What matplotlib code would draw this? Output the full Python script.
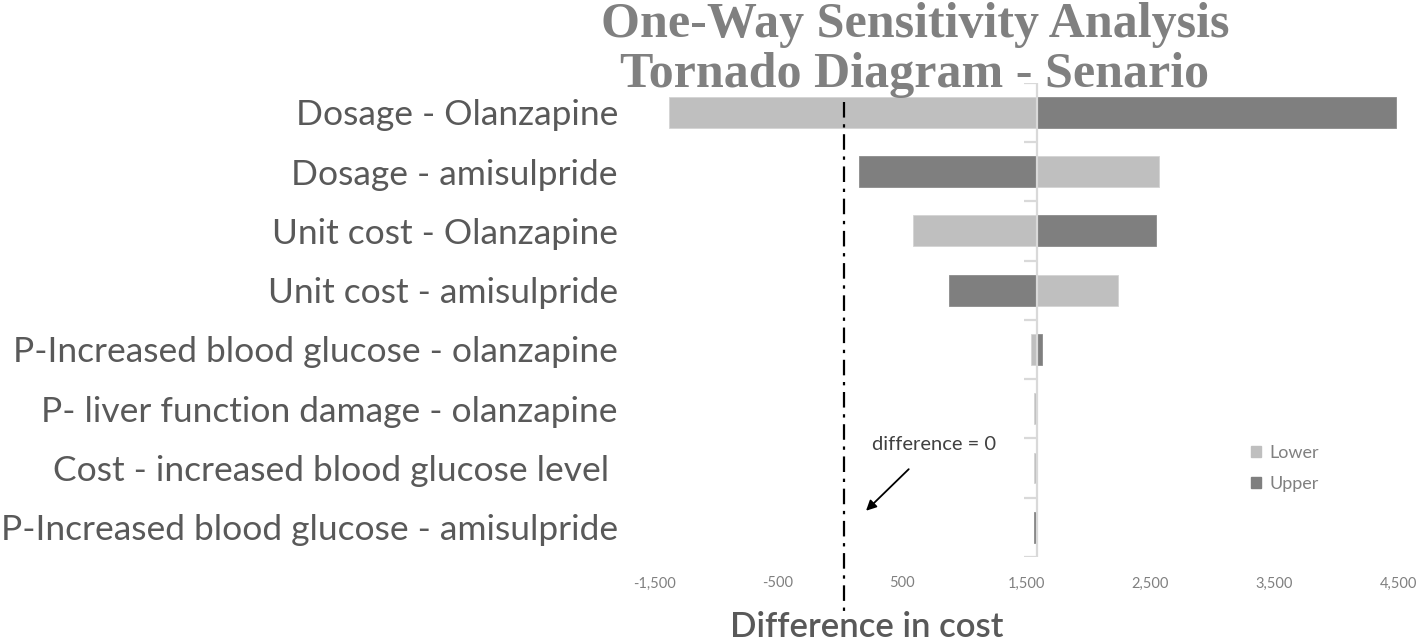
import matplotlib.pyplot as plt
import matplotlib.transforms as mtransforms
from matplotlib.patches import Patch

categories = [
    "Dosage - Olanzapine",
    "Dosage - amisulpride",
    "Unit cost - Olanzapine",
    "Unit cost - amisulpride",
    "P-Increased blood glucose - olanzapine",
    "P- liver function damage - olanzapine",
    "Cost - increased blood glucose level ",
    "P-Increased blood glucose - amisulpride",
]
base = 1590
lower = [-1380, 2573, 589, 2242, 1540, 1562, 1565, 1590]
upper = [4480, 153, 2548, 876, 1629, 1590, 1590, 1565]
xticks = [-1500, -500, 500, 1500, 2500, 3500, 4500]

light = '#bfbfbf'
dark = '#7f7f7f'

fig = plt.figure(figsize=(14.18, 6.41), dpi=100)
ax = fig.add_axes([654 / 1418, 1 - 557 / 641, 744 / 1418, 474.4 / 641])

y = list(range(len(categories)))
ax.barh(y, [l - base for l in lower], left=base, height=0.52, color=light,
        edgecolor='#d4d4d4', linewidth=0.6, label='Lower')
ax.barh(y, [u - base for u in upper], left=base, height=0.52, color=dark,
        edgecolor='#8c8c8c', linewidth=0.6, label='Upper')

# vertical axis at the base case, with its tick marks
ax.plot([base, base], [-0.5, 7.5], color='#d9d9d9', lw=1.6, zorder=3)
ax.hlines([k - 0.5 for k in range(9)], base - 105, base, color='#d9d9d9', lw=1.6, zorder=3)

ax.set_xlim(-1500, 4500)
ax.set_ylim(7.5, -0.5)
ax.set_xticks(xticks)
ax.set_xticklabels([f"{v:,}" for v in xticks], fontsize=10.5, color='#808080', family='Lato')
ax.set_yticks(y)
ax.set_yticklabels(categories, fontsize=25.5, color='#595959', family='Lato')
ax.tick_params(axis='x', length=0, pad=14)
ax.tick_params(axis='y', length=0, pad=26)
for s in ax.spines.values():
    s.set_visible(False)

# difference = 0 reference line
trans = mtransforms.blended_transform_factory(ax.transData, ax.transAxes)
ax.plot([30, 30], [0.959, -0.118], transform=trans, color='black', lw=1.6,
        linestyle=(0, (7, 3, 1.5, 3)), clip_on=False, zorder=4)
ax.annotate('difference = 0', xy=(210, 6.72), xytext=(760, 5.6),
            fontsize=14.5, color='#404040', family='Lato', ha='center', va='center',
            arrowprops=dict(arrowstyle='-|>', color='black', lw=1.3,
                            shrinkA=14, shrinkB=0, mutation_scale=15))

ax.legend(handles=[Patch(color=light, label='Lower'), Patch(color=dark, label='Upper')],
          loc='upper left', bbox_to_anchor=(0.79, 0.255), frameon=False,
          handlelength=0.55, handleheight=0.55, handletextpad=0.5, labelspacing=0.8,
          prop={'family': 'Lato', 'size': 13}, labelcolor='#808080', borderpad=0)

fig.text(915 / 1418, 1 - 50 / 641, "One-Way Sensitivity Analysis\nTornado Diagram - Senario",
         ha='center', va='center', fontsize=36, fontweight='bold', color='#808080',
         family='Liberation Serif', linespacing=1.1)
fig.text(867 / 1418, 1 - 627 / 641, "Difference in cost", ha='center', va='center',
         fontsize=25, fontweight='semibold', color='#595959', family='Lato')

fig.savefig('out.png', dpi=100)
